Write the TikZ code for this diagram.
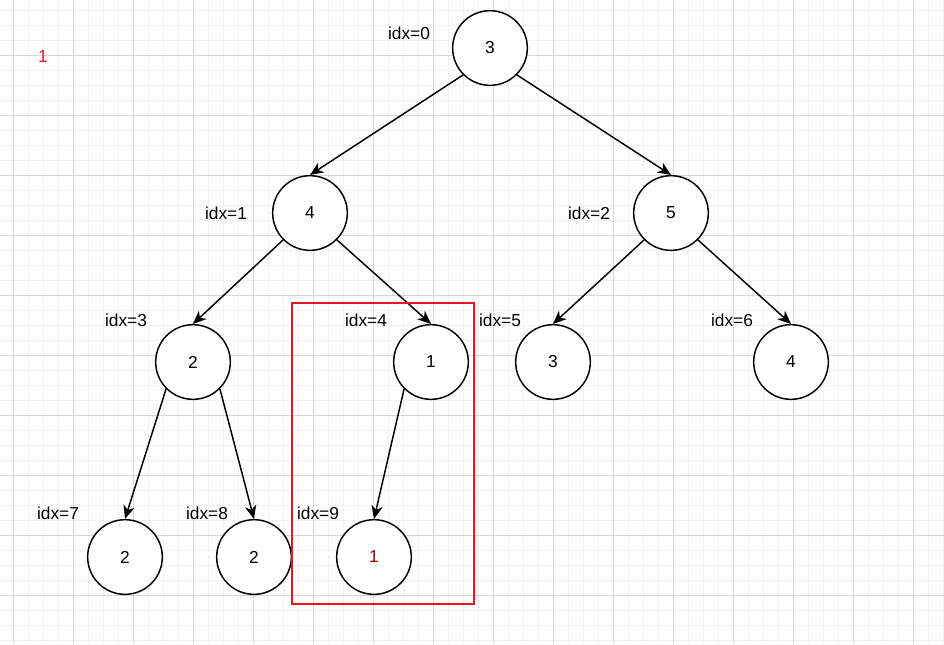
\documentclass[tikz,border=0pt]{standalone}
\usepackage{fontspec}
\setmainfont{Liberation Sans}
\usetikzlibrary{arrows.meta}

\definecolor{gridminor}{RGB}{241,241,241}
\definecolor{gridmajor}{RGB}{216,216,216}
\definecolor{boxred}{RGB}{228,24,36}
\definecolor{leafred}{RGB}{160,0,10}

\begin{document}
\begin{tikzpicture}[x=0.75pt, y=-0.75pt,
    treenode/.style={circle, draw, line width=1.1pt, fill=white,
      minimum size=56pt, inner sep=0pt, font=\fontsize{13}{15}\selectfont},
    idxlabel/.style={font=\fontsize{13}{15}\selectfont},
    edge/.style={-{Stealth[length=10pt, width=8.5pt, inset=3pt]}, line width=1.1pt}]

    \useasboundingbox (0,0) rectangle (944,644);
    \fill[white] (0,0) rectangle (944,644);

    %% =========================================================
    %% BACKGROUND GRID — minor every 15px, major every 60px
    %% =========================================================
    \foreach \gx in {13,28,...,943}
      \draw[gridminor, line width=0.6pt] (\gx,0) -- (\gx,644);
    \foreach \gy in {10,25,...,640}
      \draw[gridminor, line width=0.6pt] (0,\gy) -- (944,\gy);
    \foreach \gx in {13,73,...,943}
      \draw[gridmajor, line width=0.6pt] (\gx,0) -- (\gx,644);
    \foreach \gy in {55,115,...,640}
      \draw[gridmajor, line width=0.6pt] (0,\gy) -- (944,\gy);

    \node[idxlabel, text=boxred] (mark) at (43,57) {1};

    %% =========================================================
    %% TREE NODES (array index idx = 0..9)
    %% =========================================================
    \node[treenode] (n0) at (490,48)  {3};
    \node[treenode] (n1) at (310,213) {4};
    \node[treenode] (n2) at (671,213) {5};
    \node[treenode] (n3) at (193,362) {2};
    \node[treenode] (n4) at (431,362) {1};
    \node[treenode] (n5) at (553,362) {3};
    \node[treenode] (n6) at (791,362) {4};
    \node[treenode] (n7) at (125,557) {2};
    \node[treenode] (n8) at (254,557) {2};
    \node[treenode, text=leafred] (n9) at (374,557) {1};

    %% index labels
    \node[idxlabel] (idx0) at (409,33)  {idx=0};
    \node[idxlabel] (idx1) at (226,213) {idx=1};
    \node[idxlabel] (idx2) at (589,213) {idx=2};
    \node[idxlabel] (idx3) at (126,320) {idx=3};
    \node[idxlabel] (idx4) at (366,320) {idx=4};
    \node[idxlabel] (idx5) at (500,320) {idx=5};
    \node[idxlabel] (idx6) at (732,320) {idx=6};
    \node[idxlabel] (idx7) at (58,513)  {idx=7};
    \node[idxlabel] (idx8) at (207,513) {idx=8};
    \node[idxlabel] (idx9) at (318,513) {idx=9};

    %% EDGES
    \draw[edge] (n0.south west) -- (n1.north);
    \draw[edge] (n0.south east) -- (n2.north);
    \draw[edge] (n1.south west) -- (n3.north);
    \draw[edge] (n1.south east) -- (n4.north);
    \draw[edge] (n2.south west) -- (n5.north);
    \draw[edge] (n2.south east) -- (n6.north);
    \draw[edge] (n3.south west) -- (n7.north);
    \draw[edge] (n3.south east) -- (n8.north);
    \draw[edge] (n4.south west) -- (n9.north);

    %% highlighted subtree
    \draw[boxred, line width=1.2pt] (292,303) rectangle (474,604);

\end{tikzpicture}
\end{document}
